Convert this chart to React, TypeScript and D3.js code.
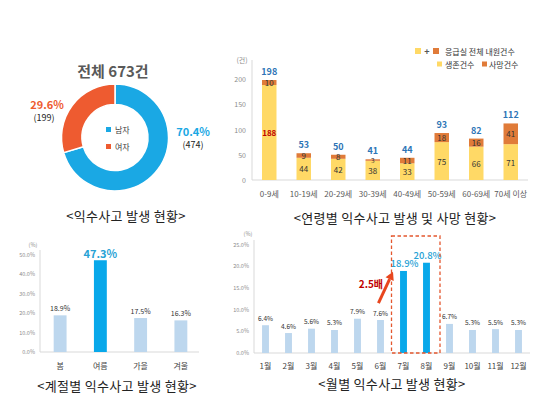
import React from 'react';
import * as d3 from 'd3';

const FONT = "'Noto Sans CJK KR', 'Noto Sans', sans-serif";

// ---- Donut data ----
const genderLabels = ['남자', '여자'];
const genderCounts = [474, 199];
const genderPct = ['70.4%', '29.6%'];
const donutTitle = '전체 673건';
const donutCaption = '<익수사고 발생 현황>';

// ---- Age data ----
const ageGroups = ['0-9세', '10-19세', '20-29세', '30-39세', '40-49세', '50-59세', '60-69세', '70세 이상'];
const survived = [188, 44, 42, 38, 33, 75, 66, 71];
const deaths = [10, 9, 8, 3, 11, 18, 16, 41];
const totals = [198, 53, 50, 41, 44, 93, 82, 112];
const ageTicks = [0, 50, 100, 150, 200];
const ageCaption = '<연령별 익수사고 발생 및 사망 현황>';

// ---- Season data ----
const seasons = ['봄', '여름', '가을', '겨울'];
const seasonPct = [18.9, 47.3, 17.5, 16.3];
const seasonTicks = [0, 10, 20, 30, 40, 50];
const seasonCaption = '<계절별 익수사고 발생 현황>';

// ---- Month data ----
const months = ['1월', '2월', '3월', '4월', '5월', '6월', '7월', '8월', '9월', '10월', '11월', '12월'];
const monthPct = [6.4, 4.6, 5.6, 5.3, 7.9, 7.6, 18.9, 20.8, 6.7, 5.3, 5.5, 5.3];
const monthTicks = [0, 5, 10, 15, 20, 25];
const highlightMonths = ['7월', '8월'];
const monthCaption = '<월별 익수사고 발생 현황>';

const C = {
  male: '#1AA8E4',
  female: '#EE5B30',
  yellow: '#FFD966',
  orange: '#E07B39',
  totalBlue: '#2E75B6',
  bright: '#08A8EA',
  brightText: '#27A2D5',
  light: '#BDD7EE',
  axis: '#D9D9D9',
  tick: '#8C8C8C',
  text: '#404040',
  red: '#C00000',
  arrow: '#E8461E',
};

function Donut() {
  const cx = 115, cy = 137.5;
  const pie = d3.pie<number>().sort(null).value((d) => d)(genderCounts);
  const arc = d3.arc<d3.PieArcDatum<number>>().innerRadius(33).outerRadius(53.5);
  const colors = [C.male, C.female];
  return (
    <g>
      <text x={113} y={70} textAnchor="middle" dominantBaseline="central" fontSize={15} fontWeight={700} fill="#595959">{donutTitle}</text>
      <g transform={`translate(${cx},${cy})`}>
        {pie.map((p, i) => (
          <path key={i} d={arc(p) || ''} fill={colors[i]} stroke="#fff" strokeWidth={1.5} />
        ))}
        {genderLabels.map((g, i) => (
          <g key={g} transform={`translate(-7,${-8 + i * 17})`}>
            <rect x={-2} y={-2.5} width={5} height={5} fill={colors[i]} />
            <text x={7} y={0} dominantBaseline="central" fontSize={8} fill={C.text}>{g}</text>
          </g>
        ))}
      </g>
      <text x={193} y={130.5} textAnchor="middle" dominantBaseline="central" fontSize={11} fontWeight={700} fill={C.male}>{genderPct[0]}</text>
      <text x={193} y={144} textAnchor="middle" dominantBaseline="central" fontSize={9} fill="#222">({genderCounts[0]})</text>
      <text x={47} y={103.5} textAnchor="middle" dominantBaseline="central" fontSize={11} fontWeight={700} fill={C.female}>{genderPct[1]}</text>
      <text x={44} y={117} textAnchor="middle" dominantBaseline="central" fontSize={9} fill="#222">({genderCounts[1]})</text>
      <text x={126} y={215} textAnchor="middle" dominantBaseline="central" fontSize={13} letterSpacing={0.3} fill="#222">{donutCaption}</text>
    </g>
  );
}

function AgeChart() {
  const x = d3.scaleBand<string>().domain(ageGroups).range([252, 528]).paddingInner(0.58).paddingOuter(0.29);
  const y = d3.scaleLinear().domain([0, 200]).range([180, 79]);
  const bw = x.bandwidth();
  return (
    <g>
      <line x1={252} x2={252} y1={60} y2={180} stroke={C.axis} />
      <line x1={252} x2={528} y1={180} y2={180} stroke={C.axis} />
      <text x={242} y={60} textAnchor="middle" dominantBaseline="central" fontSize={7} fill={C.tick}>(건)</text>
      {ageTicks.map((t) => (
        <text key={t} x={246} y={y(t)} textAnchor="end" dominantBaseline="central" fontSize={7} fill={C.tick}>{t}</text>
      ))}
      {ageGroups.map((g, i) => {
        const x0 = x(g)!;
        const cxm = x0 + bw / 2;
        const ySurv = y(survived[i]);
        const yTot = y(survived[i] + deaths[i]);
        const small = deaths[i] < 5;
        return (
          <g key={g}>
            <rect x={x0} y={ySurv} width={bw} height={y(0) - ySurv} fill={C.yellow} />
            <rect x={x0} y={yTot} width={bw} height={ySurv - yTot} fill={C.orange} />
            <text x={cxm} y={(ySurv + y(0)) / 2} textAnchor="middle" dominantBaseline="central" fontSize={8} fontWeight={i === 0 ? 700 : 400} fill={i === 0 ? C.red : '#333'}>{survived[i]}</text>
            <text x={cxm} y={(ySurv + yTot) / 2} textAnchor="middle" dominantBaseline="central" fontSize={small ? 6.5 : 8} fill="#333">{deaths[i]}</text>
            <text x={cxm} y={yTot - 8.5} textAnchor="middle" dominantBaseline="central" fontSize={9} fontWeight={700} fill={C.totalBlue}>{totals[i]}</text>
            <text x={cxm} y={193} textAnchor="middle" dominantBaseline="central" fontSize={8} fill="#595959">{g}</text>
          </g>
        );
      })}
      {/* legend */}
      <rect x={415} y={48} width={6} height={6} fill={C.yellow} />
      <text x={427} y={51} textAnchor="middle" dominantBaseline="central" fontSize={9} fontWeight={700} fill="#555">+</text>
      <rect x={433} y={48} width={6} height={6} fill={C.orange} />
      <text x={445} y={51} dominantBaseline="central" fontSize={8} fill="#333">응급실 전체 내원건수</text>
      <rect x={437} y={61.5} width={5} height={5} fill={C.yellow} />
      <text x={445} y={64} dominantBaseline="central" fontSize={8} fill="#333">생존건수</text>
      <rect x={482} y={61.5} width={5} height={5} fill={C.orange} />
      <text x={489} y={64} dominantBaseline="central" fontSize={8} fill="#333">사망건수</text>
      <text x={395} y={217} textAnchor="middle" dominantBaseline="central" fontSize={13} letterSpacing={0.3} fill="#222">{ageCaption}</text>
    </g>
  );
}

function SeasonChart() {
  const x = d3.scaleBand<string>().domain(seasons).range([40, 201]).paddingInner(0.68).paddingOuter(0.34);
  const y = d3.scaleLinear().domain([0, 50]).range([352, 255]);
  const bw = x.bandwidth();
  return (
    <g>
      <line x1={40} x2={40} y1={250} y2={352} stroke={C.axis} />
      <line x1={40} x2={199} y1={352} y2={352} stroke={C.axis} />
      <text x={33} y={245} textAnchor="middle" dominantBaseline="central" fontSize={5.5} fill={C.tick}>(%)</text>
      {seasonTicks.map((t) => (
        <text key={t} x={35} y={y(t)} textAnchor="end" dominantBaseline="central" fontSize={5.5} fill={C.tick}>{t.toFixed(1)}%</text>
      ))}
      {seasons.map((s, i) => {
        const x0 = x(s)!;
        const hi = i === 1;
        return (
          <g key={s}>
            <rect x={x0} y={y(seasonPct[i])} width={bw} height={y(0) - y(seasonPct[i])} fill={hi ? C.bright : C.light} />
            <text x={x0 + bw / 2} y={y(seasonPct[i]) - 7} textAnchor="middle" dominantBaseline="central" fontSize={hi ? 11 : 7} fontWeight={hi ? 700 : 400} fill={hi ? C.brightText : '#333'}>{seasonPct[i].toFixed(1)}%</text>
            <text x={x0 + bw / 2} y={365} textAnchor="middle" dominantBaseline="central" fontSize={8} fill="#444">{s}</text>
          </g>
        );
      })}
      <text x={117} y={385} textAnchor="middle" dominantBaseline="central" fontSize={13} letterSpacing={0.3} fill="#222">{seasonCaption}</text>
    </g>
  );
}

function MonthChart() {
  const x = d3.scaleBand<string>().domain(months).range([254, 530]).paddingInner(0.7).paddingOuter(0.35);
  const y = d3.scaleLinear().domain([0, 25]).range([353, 244.5]);
  const bw = x.bandwidth();
  const step = x.step();
  const boxL = x('7월')! - (step - bw) / 2 - 0.5;
  const boxR = x('8월')! + bw + (step - bw) / 2 + 2;
  const boxT = y(25) - 8.5;
  const ax0 = x('6월')! + bw * 0.2, ay0 = y(11.5);
  const ax1 = x('7월')! - (step - bw) / 2 + 1, ay1 = y(18.7);
  const ang = Math.atan2(ay1 - ay0, ax1 - ax0);
  const hl = 8, hw = 4.5;
  const bxp = ax1 - hl * Math.cos(ang), byp = ay1 - hl * Math.sin(ang);
  const px = -Math.sin(ang), py = Math.cos(ang);
  return (
    <g>
      <line x1={254} x2={254} y1={240} y2={353} stroke={C.axis} />
      <line x1={254} x2={530} y1={353} y2={353} stroke={C.axis} />
      <text x={248} y={234} textAnchor="middle" dominantBaseline="central" fontSize={5.5} fill={C.tick}>(%)</text>
      {monthTicks.map((t) => (
        <text key={t} x={249} y={y(t)} textAnchor="end" dominantBaseline="central" fontSize={5.5} fill={C.tick}>{t.toFixed(1)}%</text>
      ))}
      {months.map((m, i) => {
        const x0 = x(m)!;
        const hi = highlightMonths.includes(m);
        return (
          <g key={m}>
            <rect x={x0} y={y(monthPct[i])} width={bw} height={y(0) - y(monthPct[i])} fill={hi ? C.bright : C.light} />
            <text x={x0 + bw / 2 + (hi ? 1 : 0)} y={y(monthPct[i]) - (hi ? 8 : 7.5)} textAnchor="middle" dominantBaseline="central" fontSize={hi ? 9.5 : 6.5} fontWeight={hi ? 500 : 400} fill={hi ? C.brightText : '#333'}>{monthPct[i].toFixed(1)}%</text>
            <text x={x0 + bw / 2} y={365} textAnchor="middle" dominantBaseline="central" fontSize={8} fill="#444">{m}</text>
          </g>
        );
      })}
      <rect x={boxL} y={boxT} width={boxR - boxL} height={y(0) - boxT} fill="none" stroke="#E4572E" strokeWidth={1.3} strokeDasharray="3.5,2.5" />
      <line x1={ax0} y1={ay0} x2={bxp} y2={byp} stroke={C.arrow} strokeWidth={3} />
      <polygon points={`${ax1},${ay1} ${bxp + px * hw},${byp + py * hw} ${bxp - px * hw},${byp - py * hw}`} fill={C.arrow} />
      <text x={383} y={283} textAnchor="end" dominantBaseline="central" fontSize={10} fontWeight={700} fill={C.red}>2.5배</text>
      <text x={392} y={383} textAnchor="middle" dominantBaseline="central" fontSize={13} letterSpacing={0.3} fill="#222">{monthCaption}</text>
    </g>
  );
}

export default function App() {
  return (
    <svg width={550} height={416} viewBox="0 0 550 416" style={{ position: 'absolute', left: 0, top: 0, background: '#fff' }} fontFamily={FONT}>
      <rect x={0} y={0} width={550} height={416} fill="#fff" />
      <Donut />
      <AgeChart />
      <SeasonChart />
      <MonthChart />
    </svg>
  );
}
